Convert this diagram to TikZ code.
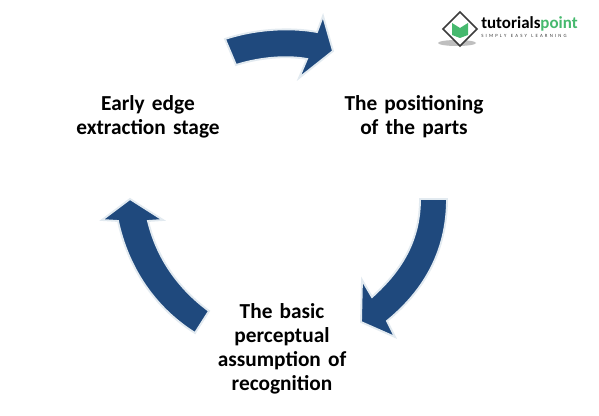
\documentclass[tikz,border=0pt]{standalone}
\usepackage{fontspec}
\setmainfont{Carlito}
\usepackage{tikz}
\usetikzlibrary{positioning,calc}
\definecolor{accent}{RGB}{31,73,125}
\definecolor{halo}{RGB}{226,234,240}
\definecolor{soft}{RGB}{60,60,60}
\definecolor{leaf}{RGB}{70,185,110}

\begin{document}
\begin{tikzpicture}[x=0.75pt, y=-0.75pt,
  stage/.style={align=center, text width=125pt, font=\fontsize{16}{18}\selectfont\bfseries, inner sep=0pt},
  arrowshape/.style={draw=halo, line width=1.4pt, fill=accent, line join=miter},
  brand/.style={font=\fontsize{12.7}{13}\selectfont\bfseries, inner sep=0pt},
  motto/.style={font=\fontsize{3.6}{4}\selectfont, text=soft, inner sep=0pt}]
\useasboundingbox (0,0) rectangle (599,416);
\fill[white] (0,0) rectangle (599,416);
% curved arrows
\draw[arrowshape] (225,39) .. controls (255,29) and (290,27) .. (317,32) -- (323,16) -- (333,51) -- (299,78) -- (307,59) .. controls (285,55) and (258,58) .. (236,65) -- cycle;
\draw[arrowshape] (420,199) -- (447,199) .. controls (447,250) and (425,290) .. (387,321) -- (395,337) -- (361,322) -- (362,280) -- (372,297) .. controls (402,270) and (420,240) .. (420,199) -- cycle;
\draw[arrowshape] (209,311) -- (195,333) .. controls (155,308) and (128,268) .. (118,221) -- (102,220) -- (130,199) -- (163,220) -- (148,221) .. controls (157,258) and (178,288) .. (209,311) -- cycle;
% labels
\node[stage] (early) at (148,116.5) {Early edge\\extraction stage};
\node[stage] (parts) at (414,116.5) {The positioning\\of the parts};
\node[stage] (basic) at (282,349) {The basic\\perceptual\\assumption of\\recognition};
% logo
\fill[black!25] (457,43) ellipse (19 and 3);
\draw[soft, line width=1.2pt, fill=white] (460,12) -- (477,29) -- (460,46) -- (443,29) -- cycle;
\fill[leaf] (452,23) -- (460,28) -- (468,23) -- (468,35) -- (460,38) -- (452,35) -- cycle;
\node[brand, anchor=west] (brandname) at (481,23.5) {tutorials\textcolor{leaf}{point}};
\node[motto, anchor=west] (brandmotto) at (481,35.5) {S\ \ I\ \ M\ \ P\ \ L\ \ Y\ \ \ \ E\ \ A\ \ S\ \ Y\ \ \ \ L\ \ E\ \ A\ \ R\ \ N\ \ I\ \ N\ \ G};
\end{tikzpicture}
\end{document}
